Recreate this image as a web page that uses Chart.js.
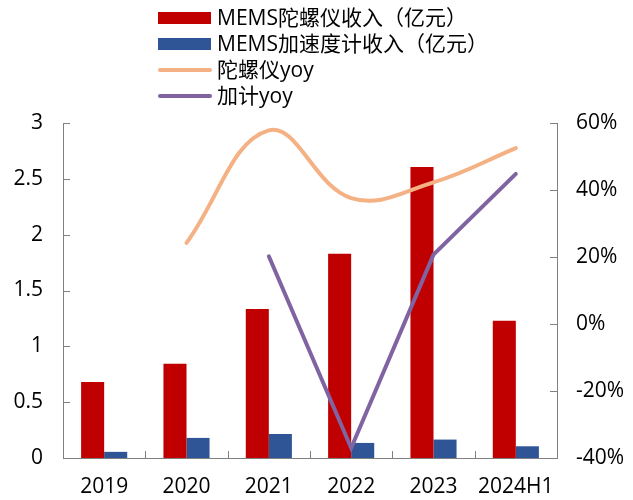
<!DOCTYPE html>
<html>
<head>
<meta charset="utf-8">
<script src="https://cdn.jsdelivr.net/npm/chart.js@4"></script>
<style>
  body { margin: 0; background: #fff; }
  #wrap { width: 633px; height: 500px; }
</style>
</head>
<body>
<div id="wrap"><canvas id="memsChart" width="633" height="500"></canvas></div>
<script>
// 年份及各项数据
const years = ['2019', '2020', '2021', '2022', '2023', '2024H1'];
const gyroRevenue = [0.68, 0.845, 1.335, 1.83, 2.605, 1.23];
const accelRevenue = [0.055, 0.18, 0.215, 0.135, 0.165, 0.105];
const gyroYoy = [null, 24.2, 57.8, 37.6, 42.3, 52.5];
const accelYoy = [null, null, 20.2, -37, 20.7, 44.8];
const revenueTicks = [0, 0.5, 1, 1.5, 2, 2.5, 3];
const yoyTicks = [-40, -20, 0, 20, 40, 60];

const FONT = "'Open Sans', 'Noto Sans CJK SC', sans-serif";
const AXIS_COLOR = '#808080';

// 刻度线朝内
const innerTicks = {
    id: 'innerTicks',
    afterDraw(chart) {
        const ctx = chart.ctx;
        const area = chart.chartArea;
        const len = 7;
        ctx.save();
        ctx.strokeStyle = AXIS_COLOR;
        ctx.lineWidth = 1;
        ctx.beginPath();
        chart.scales.y.ticks.forEach((t, i) => {
            const y = Math.round(chart.scales.y.getPixelForTick(i)) + 0.5;
            ctx.moveTo(area.left, y);
            ctx.lineTo(area.left + len, y);
        });
        chart.scales.y1.ticks.forEach((t, i) => {
            const y = Math.round(chart.scales.y1.getPixelForTick(i)) + 0.5;
            ctx.moveTo(area.right, y);
            ctx.lineTo(area.right - len, y);
        });
        const w = (area.right - area.left) / years.length;
        for (let k = 1; k < years.length; k++) {
            const x = Math.round(area.left + k * w) + 0.5;
            ctx.moveTo(x, area.bottom);
            ctx.lineTo(x, area.bottom - len);
        }
        ctx.stroke();
        ctx.restore();
    }
};

// 图例：四行纵向排列
const stackedLegend = {
    id: 'stackedLegend',
    afterDraw(chart) {
        const ctx = chart.ctx;
        const x0 = 158, boxW = 53, rowH = 26, top = 18;
        ctx.save();
        ctx.font = '21px ' + FONT;
        ctx.textBaseline = 'middle';
        chart.data.datasets.forEach((ds, i) => {
            const cy = top + i * rowH;
            if (ds.type === 'bar') {
                ctx.fillStyle = ds.backgroundColor;
                ctx.fillRect(x0, cy - 6, boxW, 12);
            } else {
                ctx.strokeStyle = ds.borderColor;
                ctx.lineWidth = 4;
                ctx.lineCap = 'round';
                ctx.beginPath();
                ctx.moveTo(x0 + 2, cy);
                ctx.lineTo(x0 + boxW - 1, cy);
                ctx.stroke();
            }
            ctx.fillStyle = '#000';
            ctx.fillText(ds.label, 217, cy + 1);
        });
        ctx.restore();
    }
};

const tickFont = { family: FONT, size: 21 };

const ctx = document.getElementById('memsChart').getContext('2d');
new Chart(ctx, {
    data: {
        labels: years,
        datasets: [
            {
                type: 'bar',
                label: 'MEMS陀螺仪收入（亿元）',
                data: gyroRevenue,
                backgroundColor: '#C00000',
                yAxisID: 'y',
                order: 1
            },
            {
                type: 'bar',
                label: 'MEMS加速度计收入（亿元）',
                data: accelRevenue,
                backgroundColor: '#2F5597',
                yAxisID: 'y',
                order: 1
            },
            {
                type: 'line',
                label: '陀螺仪yoy',
                data: gyroYoy,
                borderColor: '#F4B183',
                borderWidth: 4,
                borderCapStyle: 'round',
                tension: 0.4,
                pointRadius: 0,
                yAxisID: 'y1',
                order: 0
            },
            {
                type: 'line',
                label: '加计yoy',
                data: accelYoy,
                borderColor: '#8064A2',
                borderWidth: 4,
                borderCapStyle: 'round',
                tension: 0,
                pointRadius: 0,
                yAxisID: 'y1',
                order: 0
            }
        ]
    },
    options: {
        responsive: false,
        animation: false,
        layout: { padding: { top: 123, left: 0, right: 0, bottom: 0 } },
        datasets: {
            bar: { categoryPercentage: 0.56, barPercentage: 1.0 }
        },
        plugins: {
            legend: { display: false },
            tooltip: { enabled: false }
        },
        scales: {
            x: {
                grid: { display: false, drawTicks: false },
                border: { color: AXIS_COLOR, width: 1 },
                ticks: { color: '#000', font: tickFont, padding: 16 },
                afterFit(scale) { scale.height = 42; }
            },
            y: {
                position: 'left',
                min: 0,
                max: 3,
                afterBuildTicks(scale) { scale.ticks = revenueTicks.map(v => ({ value: v })); },
                grid: { display: false, drawTicks: false },
                border: { color: AXIS_COLOR, width: 1 },
                ticks: {
                    color: '#000',
                    font: tickFont,
                    padding: 20,
                    callback: v => String(v)
                },
                afterFit(scale) { scale.width = 63; }
            },
            y1: {
                position: 'right',
                min: -40,
                max: 60,
                afterBuildTicks(scale) { scale.ticks = yoyTicks.map(v => ({ value: v })); },
                grid: { display: false, drawTicks: false },
                border: { color: AXIS_COLOR, width: 1 },
                ticks: {
                    color: '#000',
                    font: tickFont,
                    padding: 19,
                    callback: v => v + '%'
                },
                afterFit(scale) { scale.width = 76; }
            }
        }
    },
    plugins: [innerTicks, stackedLegend]
});
</script>
</body>
</html>
